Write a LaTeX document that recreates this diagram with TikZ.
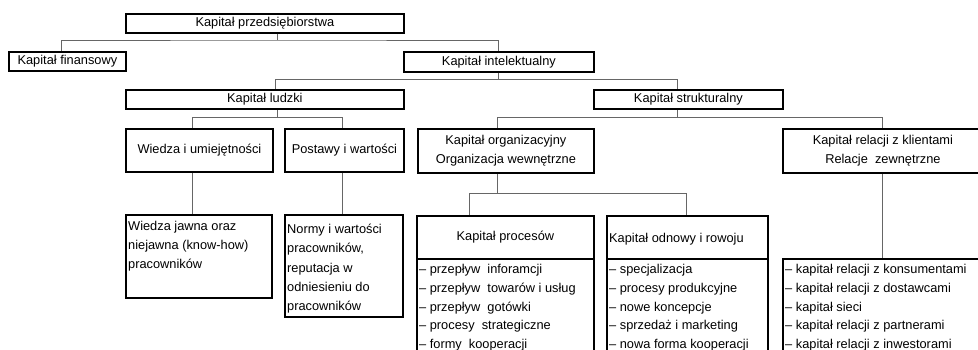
\documentclass[tikz,border=0pt]{standalone}
\usepackage{fontspec}
\setmainfont{Liberation Sans}
\newcommand{\diagfont}{\fontsize{12.8}{19}\selectfont}
\begin{document}
\begin{tikzpicture}[x=1pt,y=-1pt,
  box/.style={draw=black, line width=1.8pt, inner sep=0pt, anchor=north west, align=center, font=\diagfont},
  conn/.style={draw=black!60, line width=1pt},
  item/.style={anchor=base west, inner sep=0pt, font=\diagfont}]
\useasboundingbox (0,0) rectangle (978,349);
\clip (0,0) rectangle (978,349);

% boxes
\node[box, minimum width=278pt, minimum height=19pt] (A) at (125,13) {Kapitał przedsiębiorstwa};
\node[box, minimum width=117pt, minimum height=19pt] (B) at (8,51) {Kapitał finansowy};
\node[box, minimum width=190pt, minimum height=20pt] (C) at (403,51) {Kapitał intelektualny};
\node[box, minimum width=278pt, minimum height=19pt] (D) at (125,89) {Kapitał ludzki};
\node[box, minimum width=189pt, minimum height=19pt] (E) at (593,89) {Kapitał strukturalny};
\node[box, minimum width=147pt, minimum height=43pt] (F) at (125,128) {Wiedza i umiejętności};
\node[box, minimum width=119pt, minimum height=43pt] (G) at (284,128) {Postawy i wartości};
\node[box, minimum width=146pt, minimum height=83pt] (H) at (125,214) {};
\node[box, minimum width=118pt, minimum height=102pt] (I) at (284,214) {};
\node[box, minimum width=176pt, minimum height=44pt] (J) at (417,128) {Kapitał organizacyjny\\Organizacja wewnętrzne};
\node[box, minimum width=200pt, minimum height=44pt] (K) at (782,128) {Kapitał relacji z klientami\\Relacje\ \ zewnętrzne};
\node[box, minimum width=177pt, minimum height=43pt] (Lh) at (416,215) {Kapitał procesów};
\node[box, minimum width=177pt, minimum height=120pt] (L) at (416,258) {};
\node[box, minimum width=161pt, minimum height=43pt] (Mh) at (606,215) {};
\node[item] (Mt) at (609,242.5) {Kapitał odnowy i rowoju};
\node[box, minimum width=161pt, minimum height=120pt] (M) at (606,258) {};
\node[box, minimum width=220pt, minimum height=120pt] (N) at (782,258) {};

% texts inside boxes
\foreach \t [count=\i] in {Wiedza jawna oraz, niejawna (know-how), pracowników}
  \node[item] (H\i) at (128,{230.5+19*(\i-1)}) {\t};
\foreach \t [count=\i] in {Normy i wartości, {pracowników,}, reputacja w, odniesieniu do, pracowników}
  \node[item] (I\i) at (287,{233.5+19.25*(\i-1)}) {\t};
\foreach \t [count=\i] in {– przepływ\ \ inforamcji, – przepływ\ \ towarów i usług, – przepływ\ \ gotówki, – procesy\ \ strategiczne, – formy\ \ kooperacji}
  \node[item] (L\i) at (419,{273.5+18.75*(\i-1)}) {\t};
\foreach \t [count=\i] in {– specjalizacja, – procesy produkcyjne, – nowe koncepcje, – sprzedaż i marketing, – nowa forma kooperacji}
  \node[item] (M\i) at (609,{273.5+18.75*(\i-1)}) {\t};
\foreach \t [count=\i] in {– kapitał relacji z konsumentami, – kapitał relacji z dostawcami, – kapitał sieci, – kapitał relacji z partnerami, – kapitał relacji z inwestorami}
  \node[item] (N\i) at (785,{273.5+18.75*(\i-1)}) {\t};

% junction coordinates
\coordinate (a0) at (277,40);
\coordinate (a1) at (61,40);
\coordinate (c1) at (275,79);
\coordinate (c2) at (677,79);
\coordinate (d0) at (277,117);
\coordinate (d1) at (192,117);
\coordinate (d2) at (342,117);
\coordinate (e0) at (677,117);
\coordinate (e1) at (497,117);
\coordinate (e2) at (882,117);
\coordinate (j0) at (497,193);
\coordinate (j1) at (469,193);
\coordinate (j2) at (686,193);

% connectors
\draw[conn] (A.south -| a0) -- (a0);
\draw[conn] (B.north -| a1) |- (a0) -| (C.north);
\draw[conn] (C.south) -- (C.south |- c1);
\draw[conn] (D.north -| c1) -- (c1) -- (c2) -- (E.north -| c2);
\draw[conn] (D.south -| d0) -- (d0);
\draw[conn] (F.north -| d1) -- (d1) -- (d2) -- (G.north -| d2);
\draw[conn] (F.south -| d1) -- (H.north -| d1);
\draw[conn] (G.south -| d2) -- (I.north -| d2);
\draw[conn] (E.south -| e0) -- (e0);
\draw[conn] (J.north -| e1) -- (e1) -- (e2) -- (K.north -| e2);
\draw[conn] (K.south -| e2) -- (N.north -| e2);
\draw[conn] (J.south -| j0) -- (j0);
\draw[conn] (Lh.north -| j1) -- (j1) -- (j2) -- (Mh.north -| j2);
\end{tikzpicture}
\end{document}
